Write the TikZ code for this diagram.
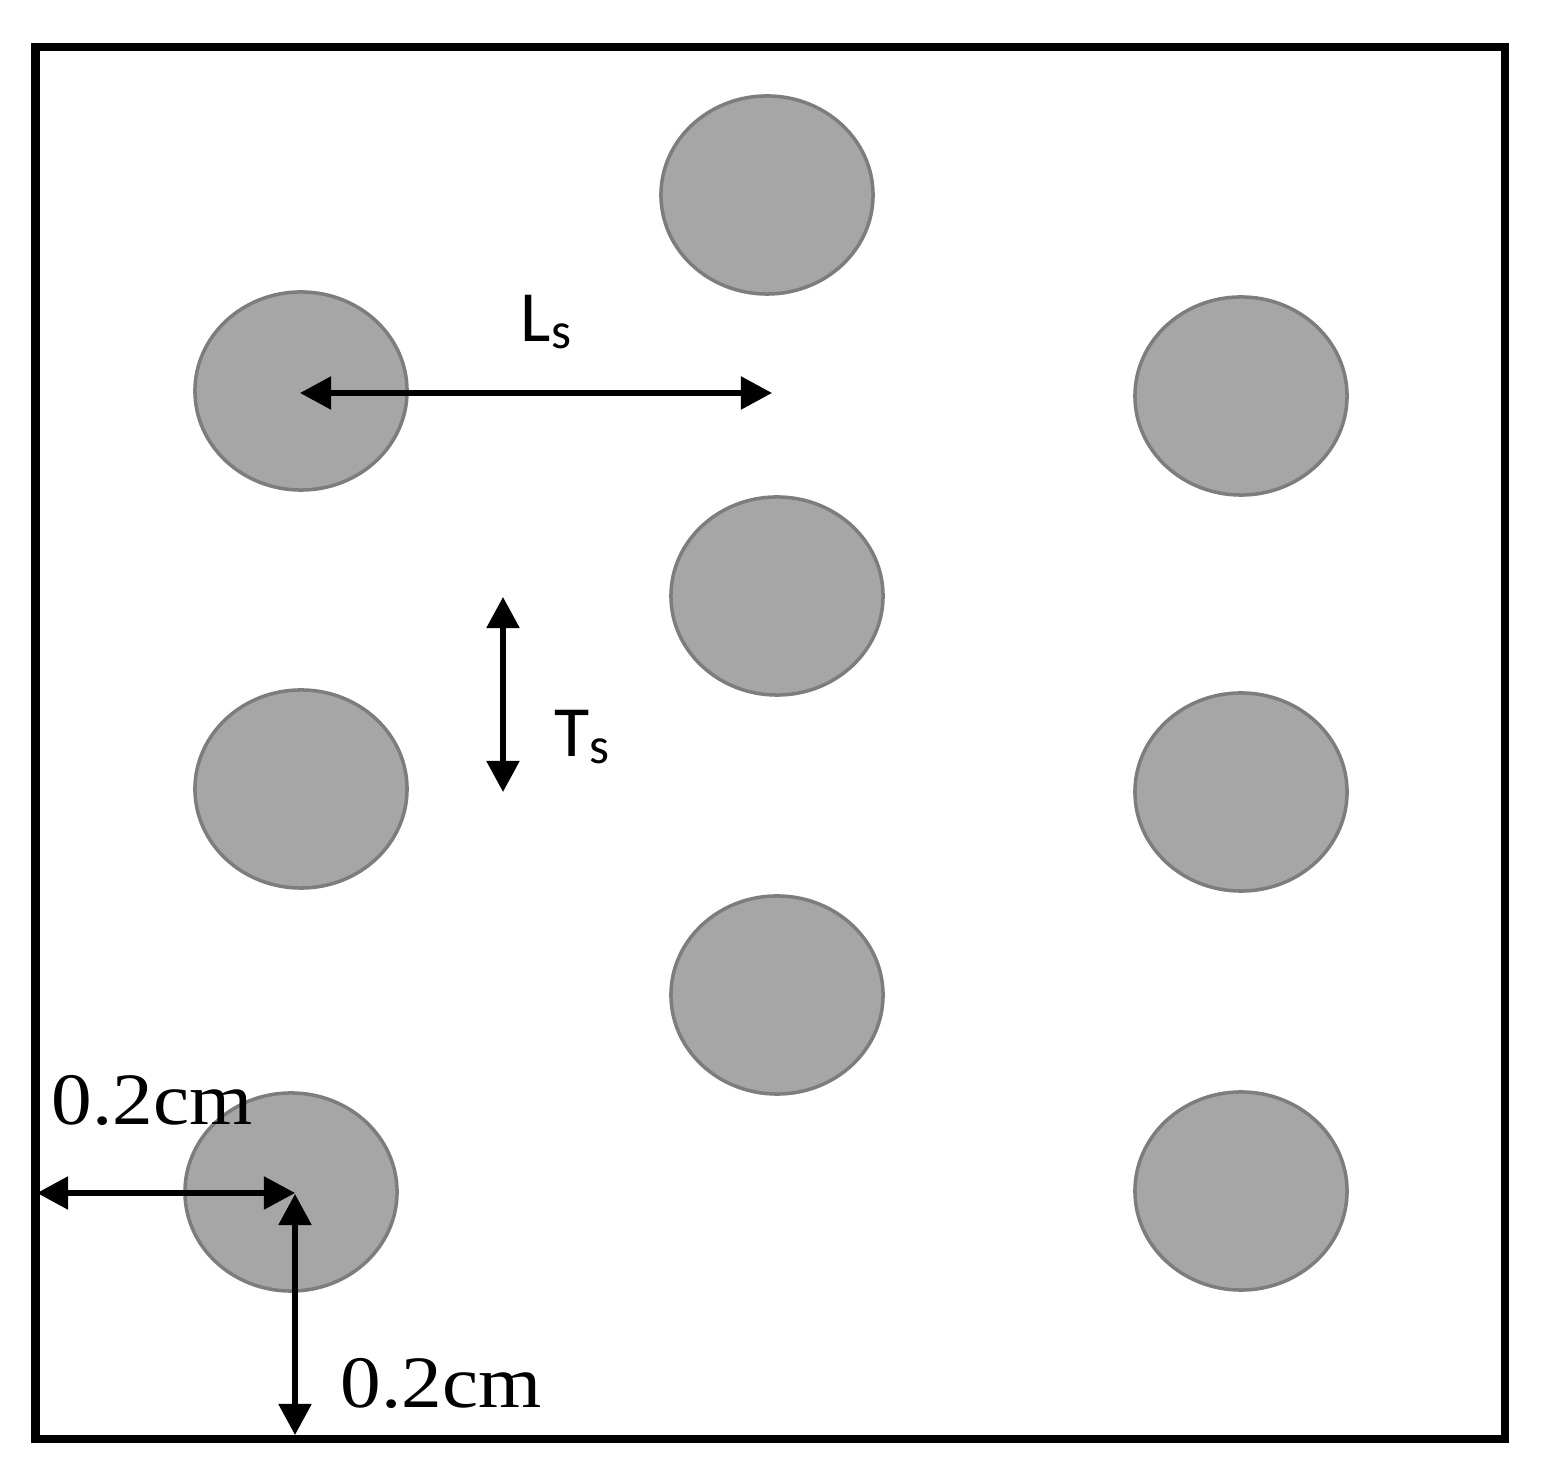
\documentclass[tikz,border=0pt]{standalone}
\usepackage{fontspec}
\setmainfont{Liberation Serif}
\newfontfamily\calib{Carlito}
\usetikzlibrary{shapes.geometric,arrows.meta}
\definecolor{holefill}{RGB}{166,166,166}
\definecolor{holeedge}{RGB}{125,125,125}
\begin{document}
\begin{tikzpicture}[x=0.01cm,y=-0.01cm,
  hole/.style={ellipse, fill=holefill, draw=holeedge, line width=1pt,
    minimum width=2.12cm, minimum height=1.98cm, inner sep=0pt},
  dimarrow/.style={line width=1.5pt, {Triangle[length=0.31cm,width=0.32cm]}-{Triangle[length=0.31cm,width=0.32cm]}},
  symlabel/.style={font=\calib\fontsize{20.5}{22}\selectfont, inner sep=0pt, anchor=base west},
  cmlabel/.style={font=\fontsize{21}{23}\selectfont, inner sep=0pt, xscale=1.1}]
\useasboundingbox (0,0) rectangle (1545,1480);
\draw[line width=0.08cm] (35.5,47) rectangle (1505,1439);
% column 1
\node[hole] (a1) at (301,391) {};
\node[hole] (a2) at (301,789) {};
\node[hole] (a3) at (291,1192) {};
% column 2
\node[hole] (b1) at (767,195) {};
\node[hole] (b2) at (777,596) {};
\node[hole] (b3) at (777,995) {};
% column 3
\node[hole] (c1) at (1241,396) {};
\node[hole] (c2) at (1241,792) {};
\node[hole] (c3) at (1241,1191) {};
% dimension points
\coordinate (lsL) at (300,393);
\coordinate (lsR) at (772,393);
\coordinate (tsT) at (503,597);
\coordinate (tsB) at (503,792);
\coordinate (hL) at (37,1193);
\coordinate (hR) at (295,1193);
\coordinate (vT) at (295,1194);
\coordinate (vB) at (295,1435);
\draw[dimarrow] (lsL) -- (lsR);
\draw[dimarrow] (tsT) -- (tsB);
\draw[dimarrow] (hL) -- (hR);
\draw[dimarrow] (vT) -- (vB);
% labels
\node[symlabel] (lslab) at (520,342) {L\raisebox{-1.8pt}{\fontsize{14.5}{15}\selectfont s}};
\node[symlabel] (tslab) at (554,757) {T\raisebox{-1.8pt}{\fontsize{14.5}{15}\selectfont s}};
\node[cmlabel] (cm1) at (152,1100) {0.2cm};
\node[cmlabel] (cm2) at (441,1383) {0.2cm};
\end{tikzpicture}
\end{document}
